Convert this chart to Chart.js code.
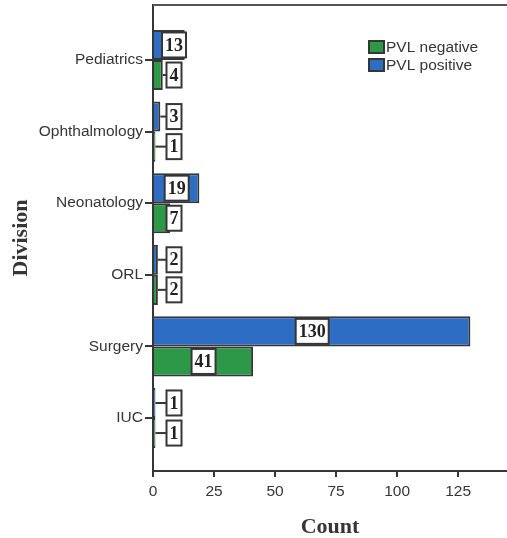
<!DOCTYPE html>
<html>
<head>
<meta charset="utf-8">
<script src="https://cdn.jsdelivr.net/npm/chart.js@4.4.1/dist/chart.umd.min.js"></script>
<style>
  html, body { margin: 0; padding: 0; background: #fff; }
  #wrap { width: 507px; height: 538px; }
</style>
</head>
<body>
<div id="wrap"><canvas id="chart"></canvas></div>
<script>
// Data
const divisions = ['Pediatrics', 'Ophthalmology', 'Neonatology', 'ORL', 'Surgery', 'IUC'];
const pvlPositive = [13, 3, 19, 2, 130, 1];
const pvlNegative = [4, 1, 7, 2, 41, 1];
const countTicks = [0, 25, 50, 75, 100, 125];

const BLUE = '#2d6ec4';
const GREEN = '#2e9849';
const INK = '#363636';
const SANS = '"Liberation Sans", Arial, sans-serif';
const SERIF = '"Liberation Serif", "DejaVu Serif", serif';

// White boxed value labels, with a small leader line when the bar is short
const boxLabels = {
  id: 'boxLabels',
  afterDatasetsDraw(chart) {
    const ctx = chart.ctx;
    const zero = chart.scales.x.getPixelForValue(0);
    ctx.save();
    ctx.font = 'bold 18px ' + SERIF;
    ctx.textAlign = 'center';
    ctx.textBaseline = 'middle';
    chart.data.datasets.forEach((ds, di) => {
      const meta = chart.getDatasetMeta(di);
      meta.data.forEach((bar, i) => {
        const text = String(ds.data[i].x);
        const w = ctx.measureText(text).width + 6;
        const h = 25;
        const cx = Math.max((bar.x + bar.base) / 2, zero + 21);
        const cy = bar.y;
        ctx.strokeStyle = INK;
        ctx.lineWidth = 2;
        if (cx - w / 2 > bar.x) {
          ctx.beginPath();
          ctx.moveTo(bar.x, cy);
          ctx.lineTo(cx - w / 2, cy);
          ctx.stroke();
        }
        ctx.fillStyle = '#fff';
        ctx.fillRect(cx - w / 2, cy - h / 2, w, h);
        ctx.strokeRect(cx - w / 2, cy - h / 2, w, h);
        ctx.fillStyle = '#222';
        ctx.fillText(text, cx, cy + 1);
      });
    });
    ctx.restore();
  }
};

// Frame line on top + legend inside the plot
const frameAndLegend = {
  id: 'frameAndLegend',
  afterDraw(chart) {
    const ctx = chart.ctx;
    const a = chart.chartArea;
    ctx.save();
    ctx.strokeStyle = '#555';
    ctx.lineWidth = 2;
    ctx.beginPath();
    ctx.moveTo(a.left, a.top);
    ctx.lineTo(a.right, a.top);
    ctx.stroke();

    const items = chart.data.datasets.slice().reverse();
    ctx.font = '15.5px ' + SANS;
    ctx.textBaseline = 'middle';
    ctx.textAlign = 'left';
    items.forEach((ds, k) => {
      const y = 47 + k * 18;
      ctx.fillStyle = ds.backgroundColor;
      ctx.fillRect(369, y - 6, 15, 12);
      ctx.strokeStyle = INK;
      ctx.lineWidth = 2;
      ctx.strokeRect(369, y - 6, 15, 12);
      ctx.fillStyle = INK;
      ctx.fillText(ds.label, 386, y + 1);
    });
    ctx.restore();
  }
};

new Chart(document.getElementById('chart'), {
  type: 'bar',
  data: {
    datasets: [
      {
        label: 'PVL positive',
        data: pvlPositive.map((v, i) => ({ x: v, y: i })),
        backgroundColor: BLUE,
        borderColor: INK,
        borderWidth: 2,
        categoryPercentage: 0.84,
        barPercentage: 1.0
      },
      {
        label: 'PVL negative',
        data: pvlNegative.map((v, i) => ({ x: v, y: i })),
        backgroundColor: GREEN,
        borderColor: INK,
        borderWidth: 2,
        categoryPercentage: 0.84,
        barPercentage: 1.0
      }
    ]
  },
  options: {
    indexAxis: 'y',
    responsive: true,
    maintainAspectRatio: false,
    animation: false,
    layout: { padding: { top: 5, right: 0, left: 0, bottom: 0 } },
    plugins: {
      legend: { display: false },
      tooltip: { enabled: false }
    },
    scales: {
      x: {
        type: 'linear',
        min: 0,
        max: 145,
        afterBuildTicks: s => { s.ticks = countTicks.map(v => ({ value: v })); },
        afterFit: s => { s.height = 67; s.paddingLeft = 0; s.paddingRight = 0; },
        grid: { drawOnChartArea: false, tickLength: 6, color: INK, lineWidth: 2 },
        border: { color: INK, width: 2 },
        ticks: {
          color: INK,
          padding: 5,
          font: { family: SANS, size: 15.5 }
        },
        title: {
          display: true,
          text: 'Count',
          color: INK,
          padding: { top: 0, bottom: 0 },
          font: { family: SERIF, size: 22, weight: 'bold', lineHeight: 1 }
        }
      },
      y: {
        type: 'linear',
        reverse: true,
        offset: false,
        min: -0.768,
        max: 5.74,
        afterBuildTicks: s => { s.ticks = divisions.map((d, i) => ({ value: i })); },
        afterFit: s => { s.width = 153; s.paddingTop = 0; s.paddingBottom = 0; },
        grid: { offset: false, drawOnChartArea: false, tickLength: 8, color: INK, lineWidth: 2 },
        border: { color: INK, width: 2 },
        ticks: {
          autoSkip: false,
          color: INK,
          padding: 2,
          font: { family: SANS, size: 15.5 },
          callback: v => divisions[v]
        },
        title: {
          display: true,
          text: 'Division',
          color: INK,
          padding: 8,
          font: { family: SERIF, size: 22, weight: 'bold' }
        }
      }
    }
  },
  plugins: [boxLabels, frameAndLegend]
});
</script>
</body>
</html>
